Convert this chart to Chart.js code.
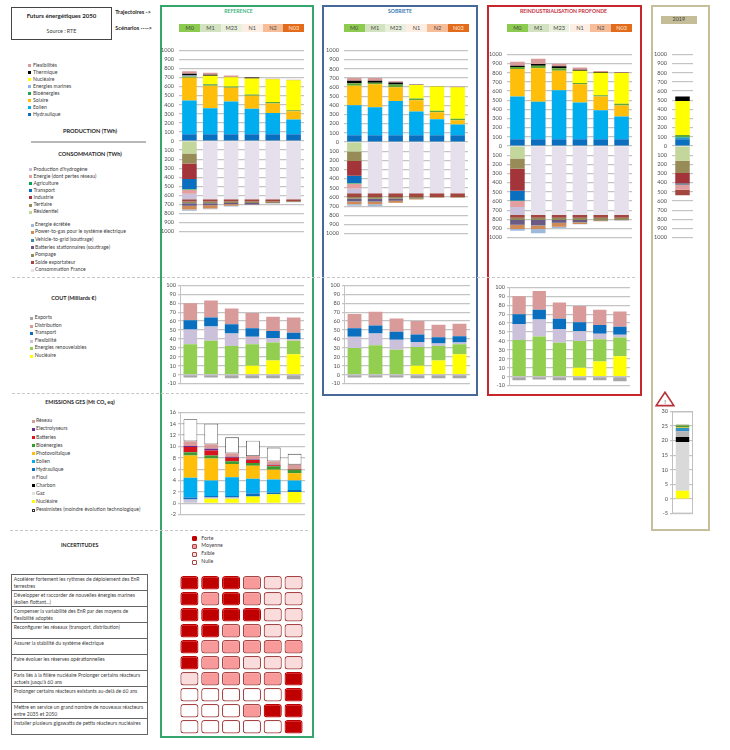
<!DOCTYPE html>
<html lang="fr">
<head>
<meta charset="utf-8">
<title>Futurs énergétiques 2050</title>
<script src="https://cdn.jsdelivr.net/npm/chart.js@4"></script>
<style>
html,body{margin:0;padding:0;background:#fff;}
#page{position:relative;width:730px;height:750px;overflow:hidden;font-family:Lato,"Open Sans",sans-serif;color:#404040;}
.t{position:absolute;white-space:nowrap;transform:translateY(-50%);line-height:1;}
.c{transform:translate(-50%,-50%);}
.box{position:absolute;box-sizing:border-box;}
canvas{position:absolute;}
.cell{position:absolute;box-sizing:border-box;text-align:left;padding:0.5px 1px 0 1.5px;font-size:5.05px;line-height:7.4px;border:1px solid #666;color:#404040;overflow:hidden;white-space:pre;}
</style>
</head>
<body>
<div id="page"></div>
<script>
// ---------- categories / labels ----------
const scenarios = ['M0','M1','M23','N1','N2','N03'];
const scenarioColors = ['#8ccb4f','#d3e2c0','#e9f0dd','#fdeee3','#f6bd98','#e36c1c'];
const prodTicksStep = 100, costTicksStep = 10, gesTicksStep = 2, ges2019TicksStep = 5;

// ---------- production colours ----------
const cHydro='#0a6fbe', cEolien='#00adef', cSolaire='#ffbe0a', cBio='#5fa836', cMarine='#8db4e2', cNucleaire='#ffff00', cThermique='#000000', cFlex='#d99a9a';
const cRes='#c3d69b', cTer='#978c57', cInd='#a3343a', cTra='#0a6fbe', cAgr='#00a651', cEne='#e39f9f', cH2='#ccc1da', cFrance='#e5e0ec';
const cExport='#a2463f', cPompage='#8f8a57', cBatt='#6b5a85', cV2g='#3b8ea6', cP2g='#cf8a55', cEcrete='#9fb9da';

// ---------- REFERENCE : production (TWh) ----------
const refHydraulique=[75,75,75,75,75,75];
const refEolien=[372,285,362,280,235,162];
const refSolaire=[250,250,150,145,105,90];
const refBio=[15,15,15,12,15,13];
const refMarines=[10,5,0,0,0,0];
const refNucleaire=[0,90,100,178,250,330];
const refThermique=[20,10,5,10,3,2];
const refFlex=[28,22,15,5,5,3];
// REFERENCE : consommation (TWh)
const refResidentiel=[-138,0,0,0,0,0];
const refTertiaire=[-109,0,0,0,0,0];
const refIndustrie=[-173,0,0,0,0,0];
const refTransport=[-110,0,0,0,0,0];
const refAgriculture=[-5,0,0,0,0,0];
const refEnergie=[-48,0,0,0,0,0];
const refHydrogene=[-60,0,0,0,0,0];
const refFrance=[0,-643,-643,-643,-643,-643];
const refExport=[-25,-25,-25,-25,-25,-22];
const refPompage=[-18,-18,-17,-17,-15,-8];
const refBatteries=[-28,-22,-12,-15,-3,0];
const refV2g=[-2,-2,-2,-1,0,0];
const refP2g=[-41,-35,-16,-3,-1,-1];
const refEcrete=[-13,-7,-7,-1,-1,-1];

// ---------- SOBRIETE : production ----------
const sobHydraulique=[75,75,75,75,75,75];
const sobEolien=[327,303,373,257,173,117];
const sobSolaire=[213,252,150,123,77,46];
const sobBio=[25,17,30,20,17,17];
const sobMarines=[0,0,0,0,0,0];
const sobNucleaire=[0,0,0,147,263,343];
const sobThermique=[28,21,22,4,3,3];
const sobFlex=[31,31,12,4,4,5];
// SOBRIETE : consommation
const sobResidentiel=[-105,0,0,0,0,0];
const sobTertiaire=[-102,0,0,0,0,0];
const sobIndustrie=[-161,0,0,0,0,0];
const sobTransport=[-80,0,0,0,0,0];
const sobAgriculture=[-4,0,0,0,0,0];
const sobEnergie=[-56,0,0,0,0,0];
const sobHydrogene=[-50,0,0,0,0,0];
const sobFrance=[0,-558,-558,-558,-558,-558];
const sobExport=[-42,-42,-42,-42,-42,-42];
const sobPompage=[-18,-18,-18,-16,-6,-6];
const sobBatteries=[-28,-32,-22,-6,0,0];
const sobV2g=[-2,-2,-2,-1,0,0];
const sobP2g=[-30,-28,-20,-4,-1,-1];
const sobEcrete=[-17,-22,-5,-1,0,0];

// ---------- REINDUSTRIALISATION : production ----------
const reiHydraulique=[75,75,75,75,75,75];
const reiEolien=[465,409,532,399,314,248];
const reiSolaire=[299,365,214,200,151,119];
const reiBio=[24,28,28,14,14,18];
const reiMarines=[0,0,0,0,0,0];
const reiNucleaire=[0,0,0,133,246,336];
const reiThermique=[14,18,21,11,7,3];
const reiFlex=[43,56,28,24,11,8];
// REINDUSTRIALISATION : consommation
const reiResidentiel=[-137,0,0,0,0,0];
const reiTertiaire=[-112,0,0,0,0,0];
const reiIndustrie=[-239,0,0,0,0,0];
const reiTransport=[-107,0,0,0,0,0];
const reiAgriculture=[-5,0,0,0,0,0];
const reiEnergie=[-67,0,0,0,0,0];
const reiHydrogene=[-87,0,0,0,0,0];
const reiFrance=[0,-754,-754,-754,-754,-754];
const reiExport=[-28,-28,-28,-28,-28,-28];
const reiPompage=[-25,-25,-25,-25,-30,-25];
const reiBatteries=[-53,-59,-31,-23,-6,-3];
const reiV2g=[-2,-2,-2,-1,0,0];
const reiP2g=[-43,-37,-40,-19,-2,0];
const reiEcrete=[-21,-46,-15,-3,-1,0];

// ---------- 2019 : production / consommation ----------
const y2019Label=['2019'];
const y19Hydraulique=[74];
const y19Eolien=[21];
const y19Bio=[25];
const y19Nucleaire=[370];
const y19Thermique=[50];
const y19Residentiel=[-160];
const y19Tertiaire=[-135];
const y19Industrie=[-112];
const y19Transport=[-15];
const y19Energie=[-56];
const y19Export=[-60];

// ---------- COUT (Milliards €) ----------
const refCoutExports=[-3,-3,-4,-4,-4,-5];
const refCoutNucleaire=[0,0,0,10,16,23];
const refCoutEnr=[34,38,32,24,20,15];
const refCoutFlex=[16.5,16,14,8.5,5,2];
const refCoutTransport=[10.5,10,10.5,9.5,8,7];
const refCoutDistribution=[19,19,17.5,17,16,17];

const sobCoutExports=[-3,-3,-3,-4,-4,-4];
const sobCoutNucleaire=[0,0,0,10,16,23];
const sobCoutEnr=[30,33,28,21,16,11];
const sobCoutFlex=[12.5,13,11,5.5,3,2];
const sobCoutTransport=[9.5,9,9,8.5,7,7];
const sobCoutDistribution=[16,15.5,15,15,14,14];

const reiCoutExports=[-4,-3,-4,-4,-4,-5];
const reiCoutNucleaire=[0,0,0,10,17,23];
const reiCoutEnr=[41,45,38,30,25,21];
const reiCoutFlex=[18,19,15.5,11,6,3];
const reiCoutTransport=[11,11,11.5,10,10,9];
const reiCoutDistribution=[20,21,18,18,17,17];

// ---------- EMISSIONS GES (Mt CO2 eq) ----------
const gesNucleaire=[0,0.8,0.8,1.2,1.6,2.0];
const gesFioul=[0.65,0.2,0.2,0,0,0];
const gesHydraulique=[0.35,0.3,0.3,0.5,0.3,0.35];
const gesEolien=[3.5,2.7,3.3,2.6,2.3,1.65];
const gesPhotovoltaique=[3.9,3.9,2.3,2.3,1.7,1.3];
const gesBioenergies=[0.6,0.5,0.5,0.5,0.6,0.6];
const gesBatteries=[0.9,0.9,0.6,0.5,0.2,0.1];
const gesElectrolyseurs=[0.2,0.3,0.2,0.1,0.1,0.05];
const gesReseau=[0.8,0.8,0.6,0.6,0.6,0.75];
const gesPessimistes=[3.9,3.6,2.8,2.7,2.4,1.9];
// 2019
const ges19Nucleaire=[2.8];
const ges19Gaz=[16.7];
const ges19Charbon=[1.7];
const ges19Fioul=[2];
const ges19Hydraulique=[0.3];
const ges19Eolien=[0.8];
const ges19Photovoltaique=[0.2];
const ges19Bioenergies=[0.7];
const ges19Reseau=[0.3];

// ---------- INCERTITUDES (0 nulle, 1 faible, 2 moyenne, 3 forte) ----------
const incRow1=[3,3,3,2,1,1];
const incRow2=[3,2,3,2,1,1];
const incRow3=[3,3,3,3,1,1];
const incRow4=[3,3,2,2,1,1];
const incRow5=[3,2,2,2,2,2];
const incRow6=[3,2,2,1,1,1];
const incRow7=[1,2,2,2,2,3];
const incRow8=[0,0,0,0,0,3];
const incRow9=[0,0,0,2,3,3];
const incRow10=[0,0,0,0,0,3];
const incLevelColors=['#ffffff','#fbdcdc','#f99a9a','#c00000'];
const incBorderColors=['#a54444','#a54444','#a54444','#c00000'];
const incLevelNames=['Forte','Moyenne','Faible','Nulle'];
const incQuestions=[
 'Accélérer fortement les rythmes de déploiement des EnR\nterrestres',
 'Développer et raccorder de nouvelles énergies marines\n(éolien flottant...)',
 'Compenser la variabilité des EnR par des moyens de\nflexibilité adoptés',
 'Reconfigurer les réseaux (transport, distribution)',
 'Assurer la stabilité du système électrique',
 'Faire évoluer les réserves opérationnelles',
 'Paris liés à la filière nucléaire Prolonger certains réacteurs\nactuels jusqu\'à 60 ans',
 'Prolonger certains réacteurs existants au-delà de 60 ans',
 'Mettre en service un grand nombre de nouveaux réacteurs\nentre 2035 et 2050',
 'Installer plusieurs gigawatts de petits réacteurs nucléaires'
];

// ---------- legends ----------
const legendProd=[['Flexibilités',cFlex],['Thermique',cThermique],['Nucléaire',cNucleaire],['Energies marines',cMarine],['Bioénergies','#22a552'],['Solaire',cSolaire],['Eolien',cEolien],['Hydraulique',cHydro]];
const legendCons=[['Production d\'hydrogène',cH2],['Energie (dont pertes réseau)',cEne],['Agriculture',cAgr],['Transport',cTra],['Industrie',cInd],['Tertiaire',cTer],['Résidentiel',cRes]];
const legendExtra=[['Energie écrêtée',cEcrete],['Power-to-gas pour le système électrique',cP2g],['Vehicle-to-grid (soutirage)',cV2g],['Batteries stationnaires (soutirage)',cBatt],['Pompage',cPompage],['Solde exportateur',cExport],['Consommation France',cFrance]];
const legendCout=[['Exports','#a6a6a6'],['Distribution',cFlex],['Transport',cTra],['Flexibilité',cH2],['Energies renouvelables','#92cf50'],['Nucléaire',cNucleaire]];
const legendGes=[['Réseau',cFlex],['Electrolyseurs','#6a2c91'],['Batteries','#e1141e'],['Bioénergies','#2ca02c'],['Photovoltaïque',cSolaire],['Eolien',cEolien],['Hydraulique',cHydro],['Fioul','#b9b3cc'],['Charbon','#000000'],['Gaz','#e3e3e3'],['Nucléaire',cNucleaire],['Pessimistes (moindre évolution technologique)','#ffffff']];

// ---------- helpers ----------
const page=document.getElementById('page');
function txt(s,x,y,o={}){
  const d=document.createElement('div');d.className='t'+(o.center?' c':'');d.textContent=s;
  d.style.left=x+'px';d.style.top=y+'px';d.style.fontSize=(o.size||5.15)+'px';
  if(o.bold)d.style.fontWeight='700';if(o.color)d.style.color=o.color;
  page.appendChild(d);return d;
}
function box(x,y,w,h,css){
  const d=document.createElement('div');d.className='box';
  d.style.cssText+=`left:${x}px;top:${y}px;width:${w}px;height:${h}px;`+(css||'');
  page.appendChild(d);return d;
}
function legend(items,swX,txX,ys){
  items.forEach((it,i)=>{
    box(swX,ys[i]-1.5,3,3,'background:'+it[1]+';'+(it[1]==='#ffffff'?'border:0.8px solid #333;':''));
    txt(it[0],txX,ys[i]);
  });
}
const LW=24;
function stackedChart(r,labels,sets,yo,extra={}){
  const c=document.createElement('canvas');
  const W=Math.round(r.w)+LW+2, H=Math.round(r.b-r.t)+10;
  c.width=W;c.height=H;
  c.style.left=(r.x-LW)+'px';c.style.top=(r.t-5)+'px';c.style.width=W+'px';c.style.height=H+'px';
  page.appendChild(c);
  return new Chart(c,{type:'bar',
    data:{labels,datasets:sets.map(s=>({label:s[0],data:s[1],backgroundColor:s[2],
      borderWidth:s[3]?0.8:0,borderColor:s[3]||undefined,borderSkipped:false}))},
    plugins:extra.frame?[{id:'frame',afterDraw(ch){const a=ch.chartArea,g=ch.ctx;g.save();g.strokeStyle='#c0c0c0';g.lineWidth=1;g.strokeRect(a.left+.5,a.top+.5,a.width-1,a.height-1);g.restore();}}]:[],
    options:{responsive:false,animation:false,devicePixelRatio:1,
      layout:{padding:{top:5,bottom:5,left:0,right:2}},
      plugins:{legend:{display:false},tooltip:{enabled:false}},
      datasets:{bar:{barPercentage:extra.bp||0.7,categoryPercentage:1}},
      scales:{
        x:{display:false,stacked:true},
        y:{stacked:true,min:yo.min,max:yo.max,
           afterFit(s){s.width=LW;},
           ticks:{stepSize:yo.step,autoSkip:false,padding:yo.axis?2:5,color:'#505050',font:{family:'Lato',size:yo.size||5.6},
                  callback:yo.abs?(v=>Math.abs(v)):(v=>v)},
           grid:{color:'#c4c4c4',lineWidth:1.2,drawTicks:!!yo.axis,tickLength:2},
           border:{display:!!yo.axis,color:'#c4c4c4'}}
      }}});
}
function prodSets(p){return [
 ['Hydraulique',p.hydro,cHydro],['Eolien',p.eol,cEolien],['Solaire',p.sol,cSolaire],['Bioénergies',p.bio,cBio],
 ['Energies marines',p.mar,cMarine],['Nucléaire',p.nuc,cNucleaire],['Thermique',p.the,cThermique],['Flexibilités',p.fle,cFlex],
 ['Résidentiel',p.res,cRes],['Tertiaire',p.ter,cTer],['Industrie',p.ind,cInd],['Transport',p.tra,cTra],['Agriculture',p.agr,cAgr],
 ['Energie',p.ene,cEne],['Hydrogène',p.h2,cH2],['Consommation France',p.fra,cFrance],['Solde exportateur',p.exp,cExport],
 ['Pompage',p.pom,cPompage],['Batteries',p.bat,cBatt],['Vehicle-to-grid',p.v2g,cV2g],['Power-to-gas',p.p2g,cP2g],['Energie écrêtée',p.ecr,cEcrete]
];}
function coutSets(e,n,r,f,t,d){return [['Exports',e,'#a6a6a6'],['Nucléaire',n,cNucleaire],['Energies renouvelables',r,'#92cf50'],['Flexibilité',f,cH2],['Transport',t,cTra],['Distribution',d,cFlex]];}

// ---------- frames ----------
box(160,4.5,154,733,'border:2px solid #35a56b;');
box(321.5,4.5,156.5,391,'border:2px solid #47689a;');
box(486.5,4.5,155.5,391,'border:2px solid #c8252d;');
box(650.5,4.5,59.5,526,'border:2px solid #c6bf9c;');
[[277,12,623],[393,12,296],[530,10,298]].forEach(a=>box(a[1],a[0],a[2],0,'border-top:1px dashed #c8c8c8;'));

// ---------- header block ----------
box(11.3,7.3,101,32.5,'border:1px solid #444;');
txt('Futurs énergétiques 2050',61.5,15.7,{center:1,bold:1,size:6.1,color:'#262626'});
txt('Source : RTE',61.5,31.7,{center:1,size:5.4});
txt('Trajectoires ->',115.3,11.7,{bold:1,size:5.6,color:'#262626'});
txt('Scénarios ---->',115.3,28,{bold:1,size:5.6,color:'#262626'});

// ---------- panel titles + scenario chips ----------
txt('REFERENCE',238.5,11.7,{center:1,bold:1,size:5.1,color:'#3fb57e'});
txt('SOBRIETE',400,11.7,{center:1,bold:1,size:5.1,color:'#3a78b0'});
txt('REINDUSTRIALISATION PROFONDE',563.5,11.7,{center:1,bold:1,size:5.2,color:'#c4303f'});
[179.3,343.7,507].forEach(x0=>{
  scenarios.forEach((s,i)=>{
    const w=125/6,x=x0+i*w;
    box(x,23.7,w,8,'background:'+scenarioColors[i]+';');
    txt(s,x+w/2,27.8,{center:1,size:5.6,color:i===5?'#ffe8d8':'#4a4a4a'});
  });
});
box(661,16,35.7,7.7,'background:#c4bd97;');
txt('2019',678.8,20,{center:1,size:5.4});

// ---------- left column text ----------
legend(legendProd,28.3,33,[65.7,72.7,79.7,86.7,93.7,100.7,107.7,114.7]);
txt('PRODUCTION (TWh)',90,131.3,{center:1,bold:1,size:5.6,color:'#262626'});
box(30.7,141,115.5,1.5,'background:#b8b8b8;');
txt('CONSOMMATION (TWh)',90,155.3,{center:1,bold:1,size:5.5,color:'#262626'});
legend(legendCons,29,33.5,[169.7,176.7,183.7,190.7,197.7,205,212]);
legend(legendExtra,30.7,35,[225,232.3,240,247.7,255,262.7,270.3]);
txt('COUT (Milliards €)',73.7,299,{center:1,bold:1,size:5.5,color:'#262626'});
legend(legendCout,30.3,34.7,[318.3,326,333.3,341,348.3,356]);
txt('EMISSIONS GES (Mt CO₂ eq)',80,402.7,{center:1,bold:1,size:5.4,color:'#262626'});
legend(legendGes,31.5,36,[421.3,429.3,437.7,445.7,453.7,461.7,469.7,477.7,485.7,493.7,501.7,510]);
txt('INCERTITUDES',79.7,546.3,{center:1,bold:1,size:5.3,color:'#262626'});
incLevelNames.forEach((n,i)=>{
  const y=[538.7,546.3,554.3,562.3][i],lv=3-i;
  box(191.5,y-2.7,5.6,5.4,`border:1px solid ${incBorderColors[lv]};background:${incLevelColors[lv]};border-radius:1px;`);
  txt(n,201.3,y,{size:5.2});
});
incQuestions.forEach((q,i)=>{
  const d=box(11.3,574.3+i*16,136.5,16.6,'');d.className='cell';d.textContent=q;
});

// ---------- warning triangle ----------
const tri=document.createElement('div');
tri.innerHTML='<svg width="20" height="16" viewBox="0 0 20 16" style="position:absolute;left:654.5px;top:391px"><polygon points="10,1.2 18.8,14.6 1.2,14.6" fill="#fff" stroke="#b8323a" stroke-width="1.6"/><text x="10" y="12.6" font-size="6.5" text-anchor="middle" fill="#555" font-family="Lato">!</text></svg>';
page.appendChild(tri);

// ---------- production / consumption charts ----------
const prodAxis={min:-1000,max:1000,step:prodTicksStep,abs:true};
stackedChart({x:179.3,w:125,t:47.3,b:235.3},scenarios,prodSets({hydro:refHydraulique,eol:refEolien,sol:refSolaire,bio:refBio,mar:refMarines,nuc:refNucleaire,the:refThermique,fle:refFlex,res:refResidentiel,ter:refTertiaire,ind:refIndustrie,tra:refTransport,agr:refAgriculture,ene:refEnergie,h2:refHydrogene,fra:refFrance,exp:refExport,pom:refPompage,bat:refBatteries,v2g:refV2g,p2g:refP2g,ecr:refEcrete}),prodAxis);
stackedChart({x:344,w:124,t:47.3,b:237.7},scenarios,prodSets({hydro:sobHydraulique,eol:sobEolien,sol:sobSolaire,bio:sobBio,mar:sobMarines,nuc:sobNucleaire,the:sobThermique,fle:sobFlex,res:sobResidentiel,ter:sobTertiaire,ind:sobIndustrie,tra:sobTransport,agr:sobAgriculture,ene:sobEnergie,h2:sobHydrogene,fra:sobFrance,exp:sobExport,pom:sobPompage,bat:sobBatteries,v2g:sobV2g,p2g:sobP2g,ecr:sobEcrete}),prodAxis);
stackedChart({x:507,w:125,t:50.7,b:240.7},scenarios,prodSets({hydro:reiHydraulique,eol:reiEolien,sol:reiSolaire,bio:reiBio,mar:reiMarines,nuc:reiNucleaire,the:reiThermique,fle:reiFlex,res:reiResidentiel,ter:reiTertiaire,ind:reiIndustrie,tra:reiTransport,agr:reiAgriculture,ene:reiEnergie,h2:reiHydrogene,fra:reiFrance,exp:reiExport,pom:reiPompage,bat:reiBatteries,v2g:reiV2g,p2g:reiP2g,ecr:reiEcrete}),prodAxis);
stackedChart({x:671.7,w:21.3,t:51,b:241},y2019Label,[
 ['Hydraulique',y19Hydraulique,cHydro],['Eolien',y19Eolien,'#1d9fc0'],['Bioénergies',y19Bio,cBio],['Nucléaire',y19Nucleaire,cNucleaire],['Thermique',y19Thermique,cThermique],
 ['Résidentiel',y19Residentiel,cRes],['Tertiaire',y19Tertiaire,cTer],['Industrie',y19Industrie,cInd],['Transport',y19Transport,'#5a6f8a'],['Energie',y19Energie,cEne],['Solde exportateur',y19Export,cExport]
],prodAxis,{bp:0.69});

// ---------- cost charts ----------
const costAxis={min:-10,max:100,step:costTicksStep,axis:true};
stackedChart({x:180.3,w:124,t:285.3,b:384.7},scenarios,coutSets(refCoutExports,refCoutNucleaire,refCoutEnr,refCoutFlex,refCoutTransport,refCoutDistribution),costAxis,{bp:0.66});
stackedChart({x:343.5,w:125.5,t:285.3,b:384.7},scenarios,coutSets(sobCoutExports,sobCoutNucleaire,sobCoutEnr,sobCoutFlex,sobCoutTransport,sobCoutDistribution),costAxis,{bp:0.66});
stackedChart({x:509,w:121,t:287,b:386.3},scenarios,coutSets(reiCoutExports,reiCoutNucleaire,reiCoutEnr,reiCoutFlex,reiCoutTransport,reiCoutDistribution),costAxis,{bp:0.66});

// ---------- GES charts ----------
stackedChart({x:180,w:125,t:412,b:515.3},scenarios,[
 ['Nucléaire',gesNucleaire,cNucleaire],['Fioul',gesFioul,'#c9c3da'],['Hydraulique',gesHydraulique,cHydro],['Eolien',gesEolien,cEolien],
 ['Photovoltaïque',gesPhotovoltaique,cSolaire],['Bioénergies',gesBioenergies,'#3f9a34'],['Batteries',gesBatteries,'#d8141f'],
 ['Electrolyseurs',gesElectrolyseurs,'#6a2c91'],['Réseau',gesReseau,cFlex],['Pessimistes',gesPessimistes,'#ffffff','#404040']
],{min:-2,max:16,step:gesTicksStep,axis:true},{bp:0.66});
stackedChart({x:671.7,w:20.6,t:410.7,b:514},y2019Label,[
 ['Nucléaire',ges19Nucleaire,cNucleaire],['Gaz',ges19Gaz,'#d9d9d9'],['Charbon',ges19Charbon,'#000000'],['Fioul',ges19Fioul,'#b5b5b5'],
 ['Hydraulique',ges19Hydraulique,cHydro],['Eolien',ges19Eolien,'#2a97c4'],['Photovoltaïque',ges19Photovoltaique,cSolaire],['Bioénergies',ges19Bioenergies,'#4f9a34'],['Réseau',ges19Reseau,'#a9b27a']
],{min:-5,max:30,step:ges2019TicksStep,axis:true},{bp:0.64,frame:true});

// ---------- uncertainty grid (floating bars through the library's scales) ----------
(function(){
  const rows=[incRow1,incRow2,incRow3,incRow4,incRow5,incRow6,incRow7,incRow8,incRow9,incRow10];
  const c=document.createElement('canvas');
  c.width=125;c.height=160;c.style.left='179.3px';c.style.top='574.5px';c.style.width='125px';c.style.height='160px';
  page.appendChild(c);
  new Chart(c,{type:'bar',
    data:{labels:scenarios,datasets:rows.map((r,i)=>({
      label:incQuestions[i],
      data:r.map(()=>[i+0.07,i+0.91]),
      backgroundColor:r.map(v=>incLevelColors[v]),
      borderColor:r.map(v=>incBorderColors[v]),
      borderWidth:1.2,borderRadius:3,borderSkipped:false
    }))},
    options:{responsive:false,animation:false,devicePixelRatio:1,layout:{padding:0},
      plugins:{legend:{display:false},tooltip:{enabled:false}},
      datasets:{bar:{grouped:false,barPercentage:0.87,categoryPercentage:1}},
      scales:{x:{display:false},y:{display:false,reverse:true,min:0,max:10}}}
  });
})();
</script>
</body>
</html>
